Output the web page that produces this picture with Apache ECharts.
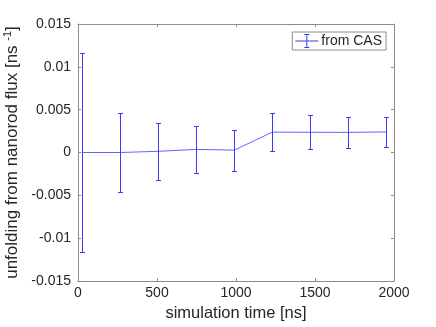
<!DOCTYPE html>
<html>
<head>
<meta charset="utf-8">
<script src="https://cdn.jsdelivr.net/npm/echarts@6/dist/echarts.min.js"></script>
<style>
html, body { margin: 0; padding: 0; background: #fff; }
#chart { width: 436px; height: 327px; }
</style>
</head>
<body>
<div id="chart"></div>
<script>
// simulation time [ns] of each sample
var simTime = [24, 268, 508, 749, 990, 1230, 1470, 1711, 1951]
// unfolding rate from nanorod flux [ns^-1]
var unfolding = [0, 0, 0.00014, 0.00036, 0.00028, 0.00238, 0.00236, 0.00235, 0.00240]
// half-length of the error bars
var errHalf = [0.01167, 0.0046, 0.0033, 0.0027, 0.0024, 0.0022, 0.0020, 0.0018, 0.0017]

var seriesName = 'from CAS'
var blue = '#3b3bff'
var axisGray = '#8c8c8c'
var font = 'Liberation Sans, Arial, Helvetica, sans-serif'

var lineData = simTime.map(function(t, i) { return [t, unfolding[i]] })
var barData = simTime.map(function(t, i) { return [t, unfolding[i] - errHalf[i], unfolding[i] + errHalf[i]] })

var chart = echarts.init(document.getElementById('chart'), null, { renderer: 'canvas' })

function frameAxis(extra) {
  var base = {
    type: 'value',
    axisLine: { show: true, onZero: false, lineStyle: { color: axisGray, width: 1 } },
    axisTick: { show: true, inside: true, length: 3, lineStyle: { color: axisGray } },
    splitLine: { show: false }
  }
  return Object.assign(base, extra)
}

function barStyle() {
  return { stroke: blue, lineWidth: 1, fill: null }
}

chart.setOption({
  animation: false,
  backgroundColor: '#fff',
  textStyle: { fontFamily: font },
  grid: { left: 78, right: 42, top: 24, bottom: 46, outerBoundsMode: 'none', containLabel: false },
  legend: {
    data: [{ name: seriesName, icon: 'path://M0,6.5h23v1H0z M11,0h1v14h-1z M9,0h5v1H9z M9,13h5v1H9z' }],
    right: 50,
    top: 32,
    itemWidth: 23,
    itemHeight: 14,
    padding: [2, 4, 2, 3],
    borderColor: '#8c8c8c',
    borderWidth: 1,
    backgroundColor: '#fff',
    textStyle: { fontSize: 14, color: '#262626', fontFamily: font, padding: [0, 0, 0, -2] }
  },
  xAxis: [frameAxis({
    min: 0,
    max: 2000,
    interval: 500,
    name: 'simulation time [ns]',
    nameLocation: 'middle',
    nameGap: 19,
    nameTextStyle: { fontSize: 16.5, color: '#262626', fontFamily: font },
    axisLabel: {
      fontSize: 14, color: '#262626', margin: 5, fontFamily: font,
      formatter: function(v) { return String(v) }
    }
  }), frameAxis({
    position: 'top',
    min: 0,
    max: 2000,
    interval: 500,
    axisLabel: { show: false }
  })],
  yAxis: [frameAxis({
    min: -0.015,
    max: 0.015,
    interval: 0.005,
    name: 'unfolding from nanorod flux [ns {sup|-1}]',
    nameLocation: 'middle',
    nameGap: 53,
    nameTextStyle: {
      fontSize: 17,
      color: '#262626',
      fontFamily: font,
      rich: {
        sup: { fontSize: 11, color: '#262626', fontFamily: font, verticalAlign: 'top', padding: [0, 0, 8, 0] }
      }
    },
    axisLabel: {
      fontSize: 14, color: '#262626', margin: 7, fontFamily: font,
      formatter: function(v) { return String(+v.toFixed(3)) }
    }
  }), frameAxis({
    position: 'right',
    min: -0.015,
    max: 0.015,
    interval: 0.005,
    axisLabel: { show: false }
  })],
  series: [{
    name: seriesName,
    type: 'line',
    data: lineData,
    symbol: 'none',
    color: blue,
    lineStyle: { color: '#6464ff', width: 1 },
    z: 3
  }, {
    name: seriesName,
    type: 'custom',
    data: barData,
    encode: { x: 0, y: [1, 2] },
    clip: false,
    renderItem: function(params, api) {
      var lo = api.coord([api.value(0), api.value(1)])
      var hi = api.coord([api.value(0), api.value(2)])
      var x = Math.round(lo[0]) + 0.5
      var yLo = Math.round(lo[1]) + 0.5
      var yHi = Math.round(hi[1]) + 0.5
      var cap = 2.5
      return {
        type: 'group',
        children: [
          { type: 'line', shape: { x1: x, y1: yLo, x2: x, y2: yHi }, style: barStyle() },
          { type: 'line', shape: { x1: x - cap, y1: yLo, x2: x + cap, y2: yLo }, style: barStyle() },
          { type: 'line', shape: { x1: x - cap, y1: yHi, x2: x + cap, y2: yHi }, style: barStyle() }
        ]
      }
    },
    z: 4
  }]
})
</script>
</body>
</html>
